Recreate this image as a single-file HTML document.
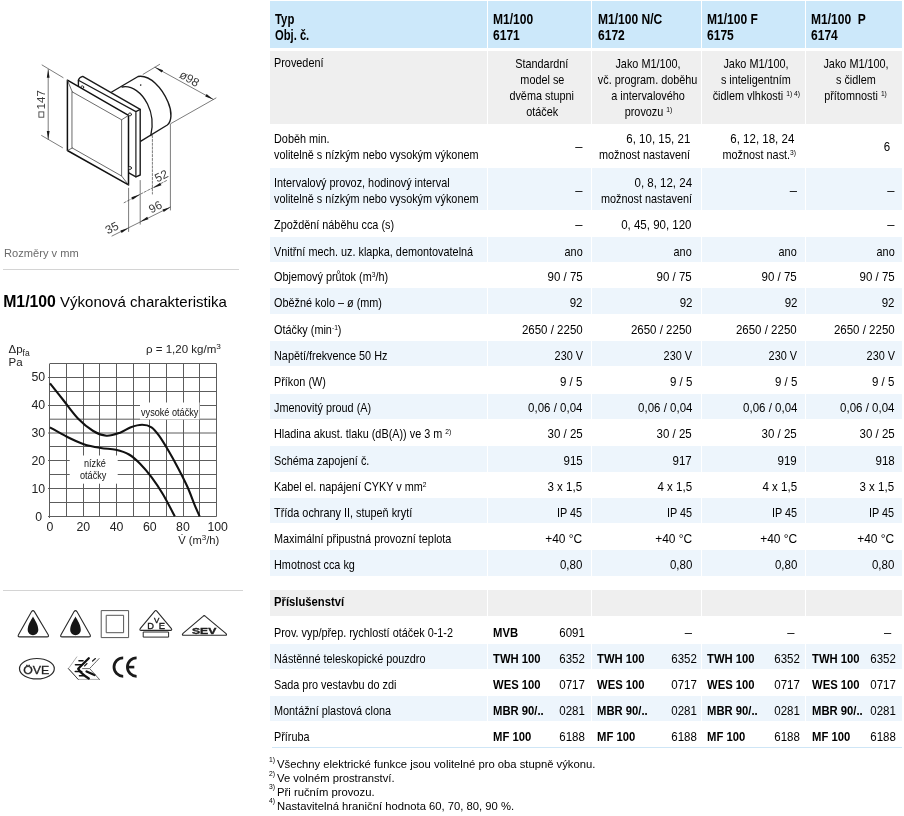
<!DOCTYPE html>
<html><head><meta charset="utf-8"><style>
html,body{margin:0;padding:0;background:#fff;}
body{width:904px;height:816px;position:relative;overflow:hidden;font-family:"Liberation Sans", sans-serif;}
.b{position:absolute;}
.t{position:absolute;white-space:nowrap;}
#w{position:absolute;left:0;top:0;width:904px;height:816px;will-change:transform;}
svg{position:absolute;left:0;top:0;}
</style></head><body><div id="w">
<svg width="904" height="816" viewBox="0 0 904 816" style="position:absolute;left:0;top:0">
<g fill="none" stroke-linejoin="round" stroke-linecap="round">
<!-- cylinder -->
<path d="M111.7,92 L138.1,76.5 C150,74.5 162,88 168,102 C172.5,112 171.5,122 167.3,125 L140.5,141.4" fill="#fff" stroke="#1a1a1a" stroke-width="1.4"/>
<path d="M122.1,87 C132,85 142,93 147.5,104 C152,113 153.5,124 150.8,135.5" stroke="#1a1a1a" stroke-width="1.3"/>
<circle cx="140.7" cy="85.1" r="0.8" fill="#222" stroke="none"/>
<!-- back plate -->
<path d="M78.4,86.5 L78.4,80.2 Q79,77.5 82.7,76.4 L140.2,109.4 L140.2,175 L135.9,176.8 L128.5,172.5 L128.5,115.4 Z" fill="#fff" stroke="none"/>
<path d="M78.4,86.5 L78.4,80.2 Q79,77.5 82.7,76.4 L140.2,109.4 L140.2,175 L135.9,176.8 L128.8,172.8" stroke="#1a1a1a" stroke-width="1.4"/>
<path d="M78.4,80.2 L135.9,111.6 L140.2,109.4 M135.9,111.6 L135.9,176.8" stroke="#1a1a1a" stroke-width="1.2"/>
<circle cx="82.3" cy="87.2" r="1.4" fill="#fff" stroke="#222" stroke-width="0.9"/>
<!-- front plate -->
<path d="M67.4,80.2 L128.5,115.4 L128.5,184.9 L67.4,150.5 Z" fill="#fff" stroke="#111" stroke-width="1.5"/>
<path d="M72.3,91.9 L121.6,119.8 L121.6,176 L72.3,148 Z" stroke="#444" stroke-width="0.8"/>
<path d="M67.4,80.2 L72.3,91.9 M128.5,115.4 L121.6,119.8 M128.5,184.9 L121.6,176 M67.4,150.5 L72.3,148" stroke="#444" stroke-width="0.8"/>
<circle cx="130" cy="114.4" r="1.5" fill="#fff" stroke="#222" stroke-width="0.9"/>
<circle cx="130" cy="168" r="1.5" fill="#fff" stroke="#222" stroke-width="0.9"/>
<!-- dimension lines -->
<g stroke="#444" stroke-width="0.7">
<line x1="42.1" y1="65" x2="63.1" y2="77.6"/>
<line x1="41.6" y1="135.5" x2="62.5" y2="147.7"/>
<line x1="48.2" y1="69.4" x2="48.2" y2="139.4"/>
<line x1="143.1" y1="74.3" x2="159.6" y2="64.4"/>
<line x1="155" y1="67.3" x2="213.3" y2="99.4"/>
<line x1="171.2" y1="123.4" x2="216" y2="98"/>
<line x1="170.4" y1="124" x2="170.4" y2="210"/>
<line x1="128.6" y1="188.2" x2="128.6" y2="231.5"/>
<line x1="140.2" y1="180.5" x2="140.2" y2="224.2"/>
<line x1="112" y1="236" x2="170.4" y2="207"/>
<line x1="152.4" y1="135.5" x2="152.4" y2="194" stroke-dasharray="2.2,1.6"/>
<line x1="124.1" y1="202.7" x2="167.6" y2="180" stroke-dasharray="2.2,1.6"/>
</g>
<g fill="#1a1a1a" stroke="none">
<path d="M48.20,69.40 L49.60,77.80 L46.80,77.80 Z"/>
<path d="M48.20,139.40 L46.80,131.00 L49.60,131.00 Z"/>
<path d="M155.00,67.30 L163.08,70.18 L161.72,72.62 Z"/>
<path d="M213.30,99.40 L205.22,96.52 L206.58,94.08 Z"/>
<path d="M128.60,228.00 L121.61,232.96 L120.39,230.44 Z"/>
<path d="M140.20,221.80 L147.19,216.84 L148.41,219.36 Z"/>
<path d="M170.40,207.20 L163.71,211.96 L162.49,209.44 Z"/>
<path d="M140.30,194.30 L132.63,199.75 L131.37,197.25 Z"/>
<path d="M152.50,188.30 L160.17,182.85 L161.43,185.35 Z"/>
</g>
</g>
<rect x="38.9" y="111.9" width="4.9" height="5.3" fill="none" stroke="#444" stroke-width="0.9"/>
<g font-family="Liberation Sans, sans-serif" fill="#3a3a3a">
<text transform="translate(45.1,109.4) rotate(-90)" font-size="11.6">147</text>
<text transform="translate(178.4,76.9) rotate(30)" font-size="12">ø98</text>
<text transform="translate(157.3,182.4) rotate(-27)" font-size="11.8">52</text>
<text transform="translate(151.3,213.6) rotate(-27)" font-size="11.8">96</text>
<text transform="translate(107.8,234.5) rotate(-27)" font-size="11.8">35</text>
</g>
</svg>

<svg width="904" height="816" viewBox="0 0 904 816" style="position:absolute;left:0;top:0">
<g stroke="#5c5c5c" stroke-width="1"><line x1="49.50" y1="363.5" x2="49.50" y2="518.00"/><line x1="66.50" y1="363.5" x2="66.50" y2="516.50"/><line x1="83.50" y1="363.5" x2="83.50" y2="516.50"/><line x1="99.50" y1="363.5" x2="99.50" y2="516.50"/><line x1="116.50" y1="363.5" x2="116.50" y2="516.50"/><line x1="133.50" y1="363.5" x2="133.50" y2="516.50"/><line x1="149.50" y1="363.5" x2="149.50" y2="516.50"/><line x1="166.50" y1="363.5" x2="166.50" y2="516.50"/><line x1="183.50" y1="363.5" x2="183.50" y2="516.50"/><line x1="199.50" y1="363.5" x2="199.50" y2="516.50"/><line x1="216.50" y1="363.5" x2="216.50" y2="516.50"/><line x1="48.00" y1="516.50" x2="216.5" y2="516.50"/><line x1="50.00" y1="502.50" x2="216.5" y2="502.50"/><line x1="48.00" y1="488.50" x2="216.5" y2="488.50"/><line x1="50.00" y1="474.50" x2="216.5" y2="474.50"/><line x1="48.00" y1="460.50" x2="216.5" y2="460.50"/><line x1="50.00" y1="446.50" x2="216.5" y2="446.50"/><line x1="48.00" y1="433.00" x2="216.5" y2="433.00"/><line x1="50.00" y1="419.20" x2="216.5" y2="419.20"/><line x1="48.00" y1="405.50" x2="216.5" y2="405.50"/><line x1="50.00" y1="391.50" x2="216.5" y2="391.50"/><line x1="48.00" y1="377.50" x2="216.5" y2="377.50"/><line x1="50.00" y1="363.50" x2="216.5" y2="363.50"/></g>
<rect x="140" y="402.5" width="59.5" height="17" fill="#fff"/>
<rect x="69.7" y="455.5" width="48" height="28.2" fill="#fff"/>
<path d="M50.00,383.40 C52.20,386.17 58.50,394.10 63.20,400.00 C67.90,405.90 73.20,413.63 78.20,418.80 C83.20,423.97 88.50,428.18 93.20,431.00 C97.90,433.82 102.00,435.38 106.40,435.70 C110.80,436.02 115.52,434.30 119.60,432.90 C123.68,431.50 127.15,428.65 130.90,427.30 C134.65,425.95 138.67,424.80 142.10,424.80 C145.53,424.80 148.68,425.48 151.50,427.30 C154.32,429.12 156.17,431.78 159.00,435.70 C161.83,439.62 165.35,445.47 168.50,450.80 C171.65,456.13 174.77,461.75 177.90,467.70 C181.03,473.65 184.48,480.23 187.30,486.50 C190.12,492.77 192.75,500.33 194.80,505.30 C196.85,510.27 198.80,514.47 199.60,516.30" fill="none" stroke="#111" stroke-width="2.1"/>
<path d="M50.00,427.30 C52.82,428.87 61.27,433.88 66.90,436.70 C72.53,439.52 78.15,442.32 83.80,444.20 C89.45,446.08 95.47,447.07 100.80,448.00 C106.13,448.93 111.10,448.72 115.80,449.80 C120.50,450.88 124.92,452.15 129.00,454.50 C133.08,456.85 136.55,460.13 140.30,463.90 C144.05,467.67 147.75,472.08 151.50,477.10 C155.25,482.12 158.92,487.47 162.80,494.00 C166.68,500.53 172.80,512.58 174.80,516.30" fill="none" stroke="#111" stroke-width="2.1"/>
<text x="42" y="520.70" font-size="12.3" text-anchor="end" fill="#222" font-family="Liberation Sans, sans-serif">0</text>
<text x="45.2" y="492.80" font-size="12.3" text-anchor="end" fill="#222" font-family="Liberation Sans, sans-serif">10</text>
<text x="45.2" y="464.90" font-size="12.3" text-anchor="end" fill="#222" font-family="Liberation Sans, sans-serif">20</text>
<text x="45.2" y="437.00" font-size="12.3" text-anchor="end" fill="#222" font-family="Liberation Sans, sans-serif">30</text>
<text x="45.2" y="409.10" font-size="12.3" text-anchor="end" fill="#222" font-family="Liberation Sans, sans-serif">40</text>
<text x="45.2" y="381.20" font-size="12.3" text-anchor="end" fill="#222" font-family="Liberation Sans, sans-serif">50</text>
<text x="50.00" y="530.5" font-size="12.3" text-anchor="middle" fill="#222" font-family="Liberation Sans, sans-serif">0</text>
<text x="83.24" y="530.5" font-size="12.3" text-anchor="middle" fill="#222" font-family="Liberation Sans, sans-serif">20</text>
<text x="116.48" y="530.5" font-size="12.3" text-anchor="middle" fill="#222" font-family="Liberation Sans, sans-serif">40</text>
<text x="149.72" y="530.5" font-size="12.3" text-anchor="middle" fill="#222" font-family="Liberation Sans, sans-serif">60</text>
<text x="182.96" y="530.5" font-size="12.3" text-anchor="middle" fill="#222" font-family="Liberation Sans, sans-serif">80</text>
<text x="217.70" y="530.5" font-size="12.3" text-anchor="middle" fill="#222" font-family="Liberation Sans, sans-serif">100</text>
</svg>
<svg width="904" height="816" viewBox="0 0 904 816" style="position:absolute;left:0;top:0">
<g fill="none" stroke="#2a2a2a" stroke-linejoin="round" stroke-linecap="round">
<!-- drop triangles -->
<path d="M31.6,611.6 Q33,609.6 34.4,611.6 L48.2,634.8 Q49.2,636.9 47,636.9 L19.7,636.9 Q17.4,636.9 18.5,634.8 Z" stroke-width="1.1"/>
<path d="M74.1,611.6 Q75.5,609.6 76.9,611.6 L90.1,634.8 Q91.1,636.9 88.9,636.9 L62.1,636.9 Q59.9,636.9 61,634.8 Z" stroke-width="1.1"/>
<!-- double square -->
<rect x="101.6" y="610.6" width="27" height="27" stroke="#555" stroke-width="1"/>
<rect x="106.6" y="615.3" width="17" height="17.4" stroke="#555" stroke-width="1"/>
<!-- DVE -->
<path d="M154.6,611.3 Q155.8,609.8 157,611.3 L171.2,628.4 Q172.6,630.4 170.4,630.4 L141.3,630.4 Q139,630.4 140.4,628.4 Z" stroke-width="1.1"/>
<rect x="143.6" y="632" width="25" height="5.1" stroke-width="1"/>
<!-- SEV -->
<path d="M203,616.3 Q204.2,615 205.4,616.3 L225.8,633.3 Q227.5,635.3 225.3,635.3 L183.7,635.3 Q181.4,635.3 183,633.3 Z" stroke-width="1.1"/>
<!-- OVE -->
<ellipse cx="36.9" cy="668.7" rx="17.4" ry="10.2" stroke-width="1.2"/>
<!-- CE -->
<path d="M123.2,657.9 A9.2,9.2 0 0 0 123.2,676.3" stroke="#1a1a1a" stroke-width="2.8" stroke-linecap="butt"/>
<path d="M136.6,657.9 A9.2,9.2 0 0 0 136.6,676.3" stroke="#1a1a1a" stroke-width="2.8" stroke-linecap="butt"/>
<line x1="127" y1="667.1" x2="134.3" y2="667.1" stroke="#1a1a1a" stroke-width="2.6" stroke-linecap="butt"/>
<!-- swirl mark -->
<path d="M76.8,656.9 L68.4,668.6 L78.2,679.4 L99.4,679.4" stroke="#999" stroke-width="0.8"/>
<path d="M68.4,668.6 L78.2,679.4" stroke="#333" stroke-width="0.9"/>
<path d="M88.8,658.2 L78.2,668.8 Q81,673.5 88.8,678.5" stroke="#111" stroke-width="2.3"/>
<path d="M79,660.8 L83,660.8 M75.5,664.8 L81.7,664.8 M75.3,671.5 L81.7,671.5 M79.5,675.7 L83.5,675.7" stroke="#111" stroke-width="1.6"/>
<path d="M90.1,668 L99.4,658.2" stroke="#333" stroke-width="0.8" stroke-dasharray="1.5,0.8"/>
<path d="M92.6,661 L95.4,658.6" stroke="#222" stroke-width="1.3"/>
<path d="M86.6,671.5 L94.5,675" stroke="#111" stroke-width="2.4"/>
<path d="M82.6,668.6 L89.7,668.6 L99.4,679.4" stroke="#444" stroke-width="0.8"/>
<path d="M84.5,666 L87,663.5" stroke="#222" stroke-width="1.1"/>
</g>
<g fill="#161616" stroke="none">
<path d="M33,616.4 C31.2,620 27.7,624.5 27.7,629.8 C27.7,633 30.2,635.2 33,635.2 C35.8,635.2 38.3,633 38.3,629.8 C38.3,624.5 34.8,620 33,616.4 Z"/>
<path d="M75.5,616.4 C73.7,620 70.2,624.5 70.2,629.8 C70.2,633 72.7,635.2 75.5,635.2 C78.3,635.2 80.8,633 80.8,629.8 C80.8,624.5 77.3,620 75.5,616.4 Z"/>
</g>
<g font-family="Liberation Sans, sans-serif" fill="#222">
<text x="147.2" y="629.3" font-size="9.3" stroke="#111" stroke-width="0.35">D</text>
<text x="154" y="622.8" font-size="8" stroke="#111" stroke-width="0.35">V</text>
<text x="158.8" y="629.3" font-size="9.3" stroke="#111" stroke-width="0.35">E</text>
<text x="0" y="0" font-size="8.4" font-weight="bold" stroke="#1a1a1a" stroke-width="0.35" transform="translate(191.9,633.6) scale(1.45,1)">SEV</text>
<text x="0" y="0" font-size="11" stroke="#222" stroke-width="0.3" transform="translate(23.2,673.8) scale(1.12,1)">ÖVE</text>
</g>
</svg>

<div class="b" style="left:270px;top:1px;width:217px;height:47px;background:#cce8fa"></div><div class="b" style="left:488px;top:1px;width:103px;height:47px;background:#cce8fa"></div><div class="b" style="left:592px;top:1px;width:109px;height:47px;background:#cce8fa"></div><div class="b" style="left:702px;top:1px;width:103px;height:47px;background:#cce8fa"></div><div class="b" style="left:806px;top:1px;width:96px;height:47px;background:#cce8fa"></div><div class="b" style="left:270px;top:51px;width:217px;height:73px;background:#efefef"></div><div class="b" style="left:488px;top:51px;width:103px;height:73px;background:#efefef"></div><div class="b" style="left:592px;top:51px;width:109px;height:73px;background:#efefef"></div><div class="b" style="left:702px;top:51px;width:103px;height:73px;background:#efefef"></div><div class="b" style="left:806px;top:51px;width:96px;height:73px;background:#efefef"></div><div class="b" style="left:270px;top:168px;width:217px;height:42px;background:#edf5fc"></div><div class="b" style="left:488px;top:168px;width:103px;height:42px;background:#edf5fc"></div><div class="b" style="left:592px;top:168px;width:109px;height:42px;background:#edf5fc"></div><div class="b" style="left:702px;top:168px;width:103px;height:42px;background:#edf5fc"></div><div class="b" style="left:806px;top:168px;width:96px;height:42px;background:#edf5fc"></div><div class="b" style="left:270px;top:237px;width:217px;height:25px;background:#edf5fc"></div><div class="b" style="left:488px;top:237px;width:103px;height:25px;background:#edf5fc"></div><div class="b" style="left:592px;top:237px;width:109px;height:25px;background:#edf5fc"></div><div class="b" style="left:702px;top:237px;width:103px;height:25px;background:#edf5fc"></div><div class="b" style="left:806px;top:237px;width:96px;height:25px;background:#edf5fc"></div><div class="b" style="left:270px;top:288px;width:217px;height:26px;background:#edf5fc"></div><div class="b" style="left:488px;top:288px;width:103px;height:26px;background:#edf5fc"></div><div class="b" style="left:592px;top:288px;width:109px;height:26px;background:#edf5fc"></div><div class="b" style="left:702px;top:288px;width:103px;height:26px;background:#edf5fc"></div><div class="b" style="left:806px;top:288px;width:96px;height:26px;background:#edf5fc"></div><div class="b" style="left:270px;top:341px;width:217px;height:25px;background:#edf5fc"></div><div class="b" style="left:488px;top:341px;width:103px;height:25px;background:#edf5fc"></div><div class="b" style="left:592px;top:341px;width:109px;height:25px;background:#edf5fc"></div><div class="b" style="left:702px;top:341px;width:103px;height:25px;background:#edf5fc"></div><div class="b" style="left:806px;top:341px;width:96px;height:25px;background:#edf5fc"></div><div class="b" style="left:270px;top:394px;width:217px;height:25px;background:#edf5fc"></div><div class="b" style="left:488px;top:394px;width:103px;height:25px;background:#edf5fc"></div><div class="b" style="left:592px;top:394px;width:109px;height:25px;background:#edf5fc"></div><div class="b" style="left:702px;top:394px;width:103px;height:25px;background:#edf5fc"></div><div class="b" style="left:806px;top:394px;width:96px;height:25px;background:#edf5fc"></div><div class="b" style="left:270px;top:446px;width:217px;height:26px;background:#edf5fc"></div><div class="b" style="left:488px;top:446px;width:103px;height:26px;background:#edf5fc"></div><div class="b" style="left:592px;top:446px;width:109px;height:26px;background:#edf5fc"></div><div class="b" style="left:702px;top:446px;width:103px;height:26px;background:#edf5fc"></div><div class="b" style="left:806px;top:446px;width:96px;height:26px;background:#edf5fc"></div><div class="b" style="left:270px;top:498px;width:217px;height:25px;background:#edf5fc"></div><div class="b" style="left:488px;top:498px;width:103px;height:25px;background:#edf5fc"></div><div class="b" style="left:592px;top:498px;width:109px;height:25px;background:#edf5fc"></div><div class="b" style="left:702px;top:498px;width:103px;height:25px;background:#edf5fc"></div><div class="b" style="left:806px;top:498px;width:96px;height:25px;background:#edf5fc"></div><div class="b" style="left:270px;top:550px;width:217px;height:26px;background:#edf5fc"></div><div class="b" style="left:488px;top:550px;width:103px;height:26px;background:#edf5fc"></div><div class="b" style="left:592px;top:550px;width:109px;height:26px;background:#edf5fc"></div><div class="b" style="left:702px;top:550px;width:103px;height:26px;background:#edf5fc"></div><div class="b" style="left:806px;top:550px;width:96px;height:26px;background:#edf5fc"></div><div class="b" style="left:270px;top:590px;width:217px;height:26px;background:#efefef"></div><div class="b" style="left:488px;top:590px;width:103px;height:26px;background:#efefef"></div><div class="b" style="left:592px;top:590px;width:109px;height:26px;background:#efefef"></div><div class="b" style="left:702px;top:590px;width:103px;height:26px;background:#efefef"></div><div class="b" style="left:806px;top:590px;width:96px;height:26px;background:#efefef"></div><div class="b" style="left:270px;top:644px;width:217px;height:25px;background:#edf5fc"></div><div class="b" style="left:488px;top:644px;width:103px;height:25px;background:#edf5fc"></div><div class="b" style="left:592px;top:644px;width:109px;height:25px;background:#edf5fc"></div><div class="b" style="left:702px;top:644px;width:103px;height:25px;background:#edf5fc"></div><div class="b" style="left:806px;top:644px;width:96px;height:25px;background:#edf5fc"></div><div class="b" style="left:270px;top:696px;width:217px;height:25px;background:#edf5fc"></div><div class="b" style="left:488px;top:696px;width:103px;height:25px;background:#edf5fc"></div><div class="b" style="left:592px;top:696px;width:109px;height:25px;background:#edf5fc"></div><div class="b" style="left:702px;top:696px;width:103px;height:25px;background:#edf5fc"></div><div class="b" style="left:806px;top:696px;width:96px;height:25px;background:#edf5fc"></div><div class="b" style="left:272px;top:747px;width:630px;height:1px;background:#cfe6f6"></div><div class="t" style="left:275.00px;top:11.95px;font-size:14px;line-height:14px;font-weight:bold;color:#000;"><span style="display:inline-block;transform:scaleX(0.81);transform-origin:left;">Typ</span></div><div class="t" style="left:275.00px;top:27.95px;font-size:14px;line-height:14px;font-weight:bold;color:#000;"><span style="display:inline-block;transform:scaleX(0.8);transform-origin:left;">Obj. č.</span></div><div class="t" style="left:492.80px;top:11.95px;font-size:14px;line-height:14px;font-weight:bold;color:#000;"><span style="display:inline-block;transform:scaleX(0.86);transform-origin:left;">M1/100</span></div><div class="t" style="left:492.80px;top:27.95px;font-size:14px;line-height:14px;font-weight:bold;color:#000;"><span style="display:inline-block;transform:scaleX(0.86);transform-origin:left;">6171</span></div><div class="t" style="left:597.80px;top:11.95px;font-size:14px;line-height:14px;font-weight:bold;color:#000;"><span style="display:inline-block;transform:scaleX(0.86);transform-origin:left;">M1/100 N/C</span></div><div class="t" style="left:597.80px;top:27.95px;font-size:14px;line-height:14px;font-weight:bold;color:#000;"><span style="display:inline-block;transform:scaleX(0.86);transform-origin:left;">6172</span></div><div class="t" style="left:707.20px;top:11.95px;font-size:14px;line-height:14px;font-weight:bold;color:#000;"><span style="display:inline-block;transform:scaleX(0.86);transform-origin:left;">M1/100 F</span></div><div class="t" style="left:707.20px;top:27.95px;font-size:14px;line-height:14px;font-weight:bold;color:#000;"><span style="display:inline-block;transform:scaleX(0.86);transform-origin:left;">6175</span></div><div class="t" style="left:811.00px;top:11.95px;font-size:14px;line-height:14px;font-weight:bold;color:#000;"><span style="display:inline-block;transform:scaleX(0.86);transform-origin:left;">M1/100&nbsp; P</span></div><div class="t" style="left:811.00px;top:27.95px;font-size:14px;line-height:14px;font-weight:bold;color:#000;"><span style="display:inline-block;transform:scaleX(0.86);transform-origin:left;">6174</span></div><div class="t" style="left:274.40px;top:56.00px;font-size:13px;line-height:13px;color:#000;"><span style="display:inline-block;transform:scaleX(0.835);transform-origin:left;">Provedení</span></div><div class="t" style="left:-458.00px;width:2000px;text-align:center;top:57.00px;font-size:13px;line-height:13px;color:#000;"><span style="display:inline-block;transform:scaleX(0.835);transform-origin:center;">Standardní</span></div><div class="t" style="left:-458.00px;width:2000px;text-align:center;top:73.00px;font-size:13px;line-height:13px;color:#000;"><span style="display:inline-block;transform:scaleX(0.835);transform-origin:center;">model se</span></div><div class="t" style="left:-458.00px;width:2000px;text-align:center;top:89.00px;font-size:13px;line-height:13px;color:#000;"><span style="display:inline-block;transform:scaleX(0.835);transform-origin:center;">dvěma stupni</span></div><div class="t" style="left:-458.00px;width:2000px;text-align:center;top:105.00px;font-size:13px;line-height:13px;color:#000;"><span style="display:inline-block;transform:scaleX(0.835);transform-origin:center;">otáček</span></div><div class="t" style="left:-352.00px;width:2000px;text-align:center;top:57.00px;font-size:13px;line-height:13px;color:#000;"><span style="display:inline-block;transform:scaleX(0.835);transform-origin:center;">Jako M1/100,</span></div><div class="t" style="left:-352.00px;width:2000px;text-align:center;top:73.00px;font-size:13px;line-height:13px;color:#000;"><span style="display:inline-block;transform:scaleX(0.835);transform-origin:center;">vč. program. doběhu</span></div><div class="t" style="left:-352.00px;width:2000px;text-align:center;top:89.00px;font-size:13px;line-height:13px;color:#000;"><span style="display:inline-block;transform:scaleX(0.835);transform-origin:center;">a intervalového</span></div><div class="t" style="left:-352.00px;width:2000px;text-align:center;top:105.00px;font-size:13px;line-height:13px;color:#000;"><span style="display:inline-block;transform:scaleX(0.835);transform-origin:center;">provozu <span style="font-size:8px;position:relative;top:-4px">1)</span></span></div><div class="t" style="left:-244.20px;width:2000px;text-align:center;top:57.00px;font-size:13px;line-height:13px;color:#000;"><span style="display:inline-block;transform:scaleX(0.835);transform-origin:center;">Jako M1/100,</span></div><div class="t" style="left:-244.20px;width:2000px;text-align:center;top:73.00px;font-size:13px;line-height:13px;color:#000;"><span style="display:inline-block;transform:scaleX(0.835);transform-origin:center;">s inteligentním</span></div><div class="t" style="left:-244.20px;width:2000px;text-align:center;top:89.00px;font-size:13px;line-height:13px;color:#000;"><span style="display:inline-block;transform:scaleX(0.835);transform-origin:center;">čidlem vlhkosti <span style="font-size:8px;position:relative;top:-4px">1) 4)</span></span></div><div class="t" style="left:-144.30px;width:2000px;text-align:center;top:57.00px;font-size:13px;line-height:13px;color:#000;"><span style="display:inline-block;transform:scaleX(0.835);transform-origin:center;">Jako M1/100,</span></div><div class="t" style="left:-144.30px;width:2000px;text-align:center;top:73.00px;font-size:13px;line-height:13px;color:#000;"><span style="display:inline-block;transform:scaleX(0.835);transform-origin:center;">s čidlem</span></div><div class="t" style="left:-144.30px;width:2000px;text-align:center;top:89.00px;font-size:13px;line-height:13px;color:#000;"><span style="display:inline-block;transform:scaleX(0.835);transform-origin:center;">přítomnosti <span style="font-size:8px;position:relative;top:-4px">1)</span></span></div><div class="t" style="left:274.40px;top:131.80px;font-size:13px;line-height:13px;color:#000;"><span style="display:inline-block;transform:scaleX(0.835);transform-origin:left;">Doběh min.</span></div><div class="t" style="left:274.40px;top:147.50px;font-size:13px;line-height:13px;color:#000;"><span style="display:inline-block;transform:scaleX(0.835);transform-origin:left;">volitelně s nízkým nebo vysokým výkonem</span></div><div class="t" style="left:-1417.50px;width:2000px;text-align:right;top:139.50px;font-size:13px;line-height:13px;color:#000;"><span style="display:inline-block;">–</span></div><div class="t" style="left:-1310.00px;width:2000px;text-align:right;top:131.80px;font-size:13px;line-height:13px;color:#000;"><span style="display:inline-block;transform:scaleX(0.885);transform-origin:right;">6, 10, 15, 21</span></div><div class="t" style="left:-1310.00px;width:2000px;text-align:right;top:147.50px;font-size:13px;line-height:13px;color:#000;"><span style="display:inline-block;transform:scaleX(0.835);transform-origin:right;">možnost nastavení</span></div><div class="t" style="left:-1205.50px;width:2000px;text-align:right;top:131.80px;font-size:13px;line-height:13px;color:#000;"><span style="display:inline-block;transform:scaleX(0.885);transform-origin:right;">6, 12, 18, 24</span></div><div class="t" style="left:-1204.00px;width:2000px;text-align:right;top:147.50px;font-size:13px;line-height:13px;color:#000;"><span style="display:inline-block;transform:scaleX(0.835);transform-origin:right;">možnost nast.<span style="font-size:8px;position:relative;top:-4px">3)</span></span></div><div class="t" style="left:-1109.50px;width:2000px;text-align:right;top:139.50px;font-size:13px;line-height:13px;color:#000;"><span style="display:inline-block;transform:scaleX(0.885);transform-origin:right;">6</span></div><div class="t" style="left:274.40px;top:175.70px;font-size:13px;line-height:13px;color:#000;"><span style="display:inline-block;transform:scaleX(0.835);transform-origin:left;">Intervalový provoz, hodinový interval</span></div><div class="t" style="left:274.40px;top:191.50px;font-size:13px;line-height:13px;color:#000;"><span style="display:inline-block;transform:scaleX(0.835);transform-origin:left;">volitelně s nízkým nebo vysokým výkonem</span></div><div class="t" style="left:-1417.50px;width:2000px;text-align:right;top:183.50px;font-size:13px;line-height:13px;color:#000;"><span style="display:inline-block;">–</span></div><div class="t" style="left:-1308.00px;width:2000px;text-align:right;top:175.70px;font-size:13px;line-height:13px;color:#000;"><span style="display:inline-block;transform:scaleX(0.885);transform-origin:right;">0, 8, 12, 24</span></div><div class="t" style="left:-1308.00px;width:2000px;text-align:right;top:191.50px;font-size:13px;line-height:13px;color:#000;"><span style="display:inline-block;transform:scaleX(0.835);transform-origin:right;">možnost nastavení</span></div><div class="t" style="left:-1203.00px;width:2000px;text-align:right;top:183.50px;font-size:13px;line-height:13px;color:#000;"><span style="display:inline-block;">–</span></div><div class="t" style="left:-1105.50px;width:2000px;text-align:right;top:183.50px;font-size:13px;line-height:13px;color:#000;"><span style="display:inline-block;">–</span></div><div class="t" style="left:274.40px;top:218.35px;font-size:13px;line-height:13px;color:#000;"><span style="display:inline-block;transform:scaleX(0.835);transform-origin:left;">Zpoždění náběhu cca (s)</span></div><div class="t" style="left:-1417.50px;width:2000px;text-align:right;top:218.35px;font-size:13px;line-height:13px;color:#000;"><span style="display:inline-block;">–</span></div><div class="t" style="left:-1308.00px;width:2000px;text-align:right;top:218.35px;font-size:13px;line-height:13px;color:#000;"><span style="display:inline-block;transform:scaleX(0.885);transform-origin:right;">0, 45, 90, 120</span></div><div class="t" style="left:-1105.50px;width:2000px;text-align:right;top:218.35px;font-size:13px;line-height:13px;color:#000;"><span style="display:inline-block;">–</span></div><div class="t" style="left:274.40px;top:244.60px;font-size:13px;line-height:13px;color:#000;"><span style="display:inline-block;transform:scaleX(0.835);transform-origin:left;">Vnitřní mech. uz. klapka, demontovatelná</span></div><div class="t" style="left:-1417.50px;width:2000px;text-align:right;top:244.60px;font-size:13px;line-height:13px;color:#000;"><span style="display:inline-block;transform:scaleX(0.835);transform-origin:right;">ano</span></div><div class="t" style="left:-1308.00px;width:2000px;text-align:right;top:244.60px;font-size:13px;line-height:13px;color:#000;"><span style="display:inline-block;transform:scaleX(0.835);transform-origin:right;">ano</span></div><div class="t" style="left:-1203.00px;width:2000px;text-align:right;top:244.60px;font-size:13px;line-height:13px;color:#000;"><span style="display:inline-block;transform:scaleX(0.835);transform-origin:right;">ano</span></div><div class="t" style="left:-1105.50px;width:2000px;text-align:right;top:244.60px;font-size:13px;line-height:13px;color:#000;"><span style="display:inline-block;transform:scaleX(0.835);transform-origin:right;">ano</span></div><div class="t" style="left:274.40px;top:270.35px;font-size:13px;line-height:13px;color:#000;"><span style="display:inline-block;transform:scaleX(0.835);transform-origin:left;">Objemový průtok (m<span style="font-size:8px;position:relative;top:-4px">3</span>/h)</span></div><div class="t" style="left:-1417.50px;width:2000px;text-align:right;top:270.35px;font-size:13px;line-height:13px;color:#000;"><span style="display:inline-block;transform:scaleX(0.885);transform-origin:right;">90 / 75</span></div><div class="t" style="left:-1308.00px;width:2000px;text-align:right;top:270.35px;font-size:13px;line-height:13px;color:#000;"><span style="display:inline-block;transform:scaleX(0.885);transform-origin:right;">90 / 75</span></div><div class="t" style="left:-1203.00px;width:2000px;text-align:right;top:270.35px;font-size:13px;line-height:13px;color:#000;"><span style="display:inline-block;transform:scaleX(0.885);transform-origin:right;">90 / 75</span></div><div class="t" style="left:-1105.50px;width:2000px;text-align:right;top:270.35px;font-size:13px;line-height:13px;color:#000;"><span style="display:inline-block;transform:scaleX(0.885);transform-origin:right;">90 / 75</span></div><div class="t" style="left:274.40px;top:296.35px;font-size:13px;line-height:13px;color:#000;"><span style="display:inline-block;transform:scaleX(0.835);transform-origin:left;">Oběžné kolo – ø (mm)</span></div><div class="t" style="left:-1417.50px;width:2000px;text-align:right;top:296.35px;font-size:13px;line-height:13px;color:#000;"><span style="display:inline-block;transform:scaleX(0.885);transform-origin:right;">92</span></div><div class="t" style="left:-1308.00px;width:2000px;text-align:right;top:296.35px;font-size:13px;line-height:13px;color:#000;"><span style="display:inline-block;transform:scaleX(0.885);transform-origin:right;">92</span></div><div class="t" style="left:-1203.00px;width:2000px;text-align:right;top:296.35px;font-size:13px;line-height:13px;color:#000;"><span style="display:inline-block;transform:scaleX(0.885);transform-origin:right;">92</span></div><div class="t" style="left:-1105.50px;width:2000px;text-align:right;top:296.35px;font-size:13px;line-height:13px;color:#000;"><span style="display:inline-block;transform:scaleX(0.885);transform-origin:right;">92</span></div><div class="t" style="left:274.40px;top:322.60px;font-size:13px;line-height:13px;color:#000;"><span style="display:inline-block;transform:scaleX(0.835);transform-origin:left;">Otáčky (min<span style="font-size:8px;position:relative;top:-4px">-1</span>)</span></div><div class="t" style="left:-1417.50px;width:2000px;text-align:right;top:322.60px;font-size:13px;line-height:13px;color:#000;"><span style="display:inline-block;transform:scaleX(0.885);transform-origin:right;">2650 / 2250</span></div><div class="t" style="left:-1308.00px;width:2000px;text-align:right;top:322.60px;font-size:13px;line-height:13px;color:#000;"><span style="display:inline-block;transform:scaleX(0.885);transform-origin:right;">2650 / 2250</span></div><div class="t" style="left:-1203.00px;width:2000px;text-align:right;top:322.60px;font-size:13px;line-height:13px;color:#000;"><span style="display:inline-block;transform:scaleX(0.885);transform-origin:right;">2650 / 2250</span></div><div class="t" style="left:-1105.50px;width:2000px;text-align:right;top:322.60px;font-size:13px;line-height:13px;color:#000;"><span style="display:inline-block;transform:scaleX(0.885);transform-origin:right;">2650 / 2250</span></div><div class="t" style="left:274.40px;top:348.60px;font-size:13px;line-height:13px;color:#000;"><span style="display:inline-block;transform:scaleX(0.835);transform-origin:left;">Napětí/frekvence 50 Hz</span></div><div class="t" style="left:-1417.50px;width:2000px;text-align:right;top:348.60px;font-size:13px;line-height:13px;color:#000;"><span style="display:inline-block;transform:scaleX(0.835);transform-origin:right;">230 V</span></div><div class="t" style="left:-1308.00px;width:2000px;text-align:right;top:348.60px;font-size:13px;line-height:13px;color:#000;"><span style="display:inline-block;transform:scaleX(0.835);transform-origin:right;">230 V</span></div><div class="t" style="left:-1203.00px;width:2000px;text-align:right;top:348.60px;font-size:13px;line-height:13px;color:#000;"><span style="display:inline-block;transform:scaleX(0.835);transform-origin:right;">230 V</span></div><div class="t" style="left:-1105.50px;width:2000px;text-align:right;top:348.60px;font-size:13px;line-height:13px;color:#000;"><span style="display:inline-block;transform:scaleX(0.835);transform-origin:right;">230 V</span></div><div class="t" style="left:274.40px;top:374.85px;font-size:13px;line-height:13px;color:#000;"><span style="display:inline-block;transform:scaleX(0.835);transform-origin:left;">Příkon (W)</span></div><div class="t" style="left:-1417.50px;width:2000px;text-align:right;top:374.85px;font-size:13px;line-height:13px;color:#000;"><span style="display:inline-block;transform:scaleX(0.885);transform-origin:right;">9 / 5</span></div><div class="t" style="left:-1308.00px;width:2000px;text-align:right;top:374.85px;font-size:13px;line-height:13px;color:#000;"><span style="display:inline-block;transform:scaleX(0.885);transform-origin:right;">9 / 5</span></div><div class="t" style="left:-1203.00px;width:2000px;text-align:right;top:374.85px;font-size:13px;line-height:13px;color:#000;"><span style="display:inline-block;transform:scaleX(0.885);transform-origin:right;">9 / 5</span></div><div class="t" style="left:-1105.50px;width:2000px;text-align:right;top:374.85px;font-size:13px;line-height:13px;color:#000;"><span style="display:inline-block;transform:scaleX(0.885);transform-origin:right;">9 / 5</span></div><div class="t" style="left:274.40px;top:401.35px;font-size:13px;line-height:13px;color:#000;"><span style="display:inline-block;transform:scaleX(0.835);transform-origin:left;">Jmenovitý proud (A)</span></div><div class="t" style="left:-1417.50px;width:2000px;text-align:right;top:401.35px;font-size:13px;line-height:13px;color:#000;"><span style="display:inline-block;transform:scaleX(0.885);transform-origin:right;">0,06 / 0,04</span></div><div class="t" style="left:-1308.00px;width:2000px;text-align:right;top:401.35px;font-size:13px;line-height:13px;color:#000;"><span style="display:inline-block;transform:scaleX(0.885);transform-origin:right;">0,06 / 0,04</span></div><div class="t" style="left:-1203.00px;width:2000px;text-align:right;top:401.35px;font-size:13px;line-height:13px;color:#000;"><span style="display:inline-block;transform:scaleX(0.885);transform-origin:right;">0,06 / 0,04</span></div><div class="t" style="left:-1105.50px;width:2000px;text-align:right;top:401.35px;font-size:13px;line-height:13px;color:#000;"><span style="display:inline-block;transform:scaleX(0.885);transform-origin:right;">0,06 / 0,04</span></div><div class="t" style="left:274.40px;top:427.35px;font-size:13px;line-height:13px;color:#000;"><span style="display:inline-block;transform:scaleX(0.835);transform-origin:left;">Hladina akust. tlaku (dB(A)) ve 3 m <span style="font-size:8px;position:relative;top:-4px">2)</span></span></div><div class="t" style="left:-1417.50px;width:2000px;text-align:right;top:427.35px;font-size:13px;line-height:13px;color:#000;"><span style="display:inline-block;transform:scaleX(0.885);transform-origin:right;">30 / 25</span></div><div class="t" style="left:-1308.00px;width:2000px;text-align:right;top:427.35px;font-size:13px;line-height:13px;color:#000;"><span style="display:inline-block;transform:scaleX(0.885);transform-origin:right;">30 / 25</span></div><div class="t" style="left:-1203.00px;width:2000px;text-align:right;top:427.35px;font-size:13px;line-height:13px;color:#000;"><span style="display:inline-block;transform:scaleX(0.885);transform-origin:right;">30 / 25</span></div><div class="t" style="left:-1105.50px;width:2000px;text-align:right;top:427.35px;font-size:13px;line-height:13px;color:#000;"><span style="display:inline-block;transform:scaleX(0.885);transform-origin:right;">30 / 25</span></div><div class="t" style="left:274.40px;top:453.60px;font-size:13px;line-height:13px;color:#000;"><span style="display:inline-block;transform:scaleX(0.835);transform-origin:left;">Schéma zapojení č.</span></div><div class="t" style="left:-1417.50px;width:2000px;text-align:right;top:453.60px;font-size:13px;line-height:13px;color:#000;"><span style="display:inline-block;transform:scaleX(0.885);transform-origin:right;">915</span></div><div class="t" style="left:-1308.00px;width:2000px;text-align:right;top:453.60px;font-size:13px;line-height:13px;color:#000;"><span style="display:inline-block;transform:scaleX(0.885);transform-origin:right;">917</span></div><div class="t" style="left:-1203.00px;width:2000px;text-align:right;top:453.60px;font-size:13px;line-height:13px;color:#000;"><span style="display:inline-block;transform:scaleX(0.885);transform-origin:right;">919</span></div><div class="t" style="left:-1105.50px;width:2000px;text-align:right;top:453.60px;font-size:13px;line-height:13px;color:#000;"><span style="display:inline-block;transform:scaleX(0.885);transform-origin:right;">918</span></div><div class="t" style="left:274.40px;top:479.85px;font-size:13px;line-height:13px;color:#000;"><span style="display:inline-block;transform:scaleX(0.835);transform-origin:left;">Kabel el. napájení CYKY v mm<span style="font-size:8px;position:relative;top:-4px">2</span></span></div><div class="t" style="left:-1417.50px;width:2000px;text-align:right;top:479.85px;font-size:13px;line-height:13px;color:#000;"><span style="display:inline-block;transform:scaleX(0.885);transform-origin:right;">3 x 1,5</span></div><div class="t" style="left:-1308.00px;width:2000px;text-align:right;top:479.85px;font-size:13px;line-height:13px;color:#000;"><span style="display:inline-block;transform:scaleX(0.885);transform-origin:right;">4 x 1,5</span></div><div class="t" style="left:-1203.00px;width:2000px;text-align:right;top:479.85px;font-size:13px;line-height:13px;color:#000;"><span style="display:inline-block;transform:scaleX(0.885);transform-origin:right;">4 x 1,5</span></div><div class="t" style="left:-1105.50px;width:2000px;text-align:right;top:479.85px;font-size:13px;line-height:13px;color:#000;"><span style="display:inline-block;transform:scaleX(0.885);transform-origin:right;">3 x 1,5</span></div><div class="t" style="left:274.40px;top:505.60px;font-size:13px;line-height:13px;color:#000;"><span style="display:inline-block;transform:scaleX(0.835);transform-origin:left;">Třída ochrany II, stupeň krytí</span></div><div class="t" style="left:-1417.50px;width:2000px;text-align:right;top:505.60px;font-size:13px;line-height:13px;color:#000;"><span style="display:inline-block;transform:scaleX(0.835);transform-origin:right;">IP 45</span></div><div class="t" style="left:-1308.00px;width:2000px;text-align:right;top:505.60px;font-size:13px;line-height:13px;color:#000;"><span style="display:inline-block;transform:scaleX(0.835);transform-origin:right;">IP 45</span></div><div class="t" style="left:-1203.00px;width:2000px;text-align:right;top:505.60px;font-size:13px;line-height:13px;color:#000;"><span style="display:inline-block;transform:scaleX(0.835);transform-origin:right;">IP 45</span></div><div class="t" style="left:-1105.50px;width:2000px;text-align:right;top:505.60px;font-size:13px;line-height:13px;color:#000;"><span style="display:inline-block;transform:scaleX(0.835);transform-origin:right;">IP 45</span></div><div class="t" style="left:274.40px;top:531.60px;font-size:13px;line-height:13px;color:#000;"><span style="display:inline-block;transform:scaleX(0.835);transform-origin:left;">Maximální připustná provozní teplota</span></div><div class="t" style="left:-1417.50px;width:2000px;text-align:right;top:531.60px;font-size:13px;line-height:13px;color:#000;"><span style="display:inline-block;transform:scaleX(0.92);transform-origin:right;">+40 °C</span></div><div class="t" style="left:-1308.00px;width:2000px;text-align:right;top:531.60px;font-size:13px;line-height:13px;color:#000;"><span style="display:inline-block;transform:scaleX(0.92);transform-origin:right;">+40 °C</span></div><div class="t" style="left:-1203.00px;width:2000px;text-align:right;top:531.60px;font-size:13px;line-height:13px;color:#000;"><span style="display:inline-block;transform:scaleX(0.92);transform-origin:right;">+40 °C</span></div><div class="t" style="left:-1105.50px;width:2000px;text-align:right;top:531.60px;font-size:13px;line-height:13px;color:#000;"><span style="display:inline-block;transform:scaleX(0.92);transform-origin:right;">+40 °C</span></div><div class="t" style="left:274.40px;top:557.85px;font-size:13px;line-height:13px;color:#000;"><span style="display:inline-block;transform:scaleX(0.835);transform-origin:left;">Hmotnost cca kg</span></div><div class="t" style="left:-1417.50px;width:2000px;text-align:right;top:557.85px;font-size:13px;line-height:13px;color:#000;"><span style="display:inline-block;transform:scaleX(0.885);transform-origin:right;">0,80</span></div><div class="t" style="left:-1308.00px;width:2000px;text-align:right;top:557.85px;font-size:13px;line-height:13px;color:#000;"><span style="display:inline-block;transform:scaleX(0.885);transform-origin:right;">0,80</span></div><div class="t" style="left:-1203.00px;width:2000px;text-align:right;top:557.85px;font-size:13px;line-height:13px;color:#000;"><span style="display:inline-block;transform:scaleX(0.885);transform-origin:right;">0,80</span></div><div class="t" style="left:-1105.50px;width:2000px;text-align:right;top:557.85px;font-size:13px;line-height:13px;color:#000;"><span style="display:inline-block;transform:scaleX(0.885);transform-origin:right;">0,80</span></div><div class="t" style="left:274.40px;top:595.30px;font-size:13px;line-height:13px;font-weight:bold;color:#000;"><span style="display:inline-block;transform:scaleX(0.866);transform-origin:left;">Příslušenství</span></div><div class="t" style="left:274.40px;top:626.10px;font-size:13px;line-height:13px;color:#000;"><span style="display:inline-block;transform:scaleX(0.835);transform-origin:left;">Prov. vyp/přep. rychlostí otáček 0-1-2</span></div><div class="t" style="left:492.80px;top:626.10px;font-size:13px;line-height:13px;font-weight:bold;color:#000;"><span style="display:inline-block;transform:scaleX(0.866);transform-origin:left;">MVB</span></div><div class="t" style="left:-1415.00px;width:2000px;text-align:right;top:626.10px;font-size:13px;line-height:13px;color:#000;"><span style="display:inline-block;transform:scaleX(0.885);transform-origin:right;">6091</span></div><div class="t" style="left:-1308.00px;width:2000px;text-align:right;top:626.10px;font-size:13px;line-height:13px;color:#000;"><span style="display:inline-block;">–</span></div><div class="t" style="left:-1205.50px;width:2000px;text-align:right;top:626.10px;font-size:13px;line-height:13px;color:#000;"><span style="display:inline-block;">–</span></div><div class="t" style="left:-1108.70px;width:2000px;text-align:right;top:626.10px;font-size:13px;line-height:13px;color:#000;"><span style="display:inline-block;">–</span></div><div class="t" style="left:274.40px;top:652.35px;font-size:13px;line-height:13px;color:#000;"><span style="display:inline-block;transform:scaleX(0.835);transform-origin:left;">Nástěnné teleskopické pouzdro</span></div><div class="t" style="left:492.80px;top:652.35px;font-size:13px;line-height:13px;font-weight:bold;color:#000;"><span style="display:inline-block;transform:scaleX(0.866);transform-origin:left;">TWH 100</span></div><div class="t" style="left:-1415.00px;width:2000px;text-align:right;top:652.35px;font-size:13px;line-height:13px;color:#000;"><span style="display:inline-block;transform:scaleX(0.885);transform-origin:right;">6352</span></div><div class="t" style="left:597.00px;top:652.35px;font-size:13px;line-height:13px;font-weight:bold;color:#000;"><span style="display:inline-block;transform:scaleX(0.866);transform-origin:left;">TWH 100</span></div><div class="t" style="left:-1303.00px;width:2000px;text-align:right;top:652.35px;font-size:13px;line-height:13px;color:#000;"><span style="display:inline-block;transform:scaleX(0.885);transform-origin:right;">6352</span></div><div class="t" style="left:707.20px;top:652.35px;font-size:13px;line-height:13px;font-weight:bold;color:#000;"><span style="display:inline-block;transform:scaleX(0.866);transform-origin:left;">TWH 100</span></div><div class="t" style="left:-1200.50px;width:2000px;text-align:right;top:652.35px;font-size:13px;line-height:13px;color:#000;"><span style="display:inline-block;transform:scaleX(0.885);transform-origin:right;">6352</span></div><div class="t" style="left:811.70px;top:652.35px;font-size:13px;line-height:13px;font-weight:bold;color:#000;"><span style="display:inline-block;transform:scaleX(0.866);transform-origin:left;">TWH 100</span></div><div class="t" style="left:-1103.70px;width:2000px;text-align:right;top:652.35px;font-size:13px;line-height:13px;color:#000;"><span style="display:inline-block;transform:scaleX(0.885);transform-origin:right;">6352</span></div><div class="t" style="left:274.40px;top:678.10px;font-size:13px;line-height:13px;color:#000;"><span style="display:inline-block;transform:scaleX(0.835);transform-origin:left;">Sada pro vestavbu do zdi</span></div><div class="t" style="left:492.80px;top:678.10px;font-size:13px;line-height:13px;font-weight:bold;color:#000;"><span style="display:inline-block;transform:scaleX(0.866);transform-origin:left;">WES 100</span></div><div class="t" style="left:-1415.00px;width:2000px;text-align:right;top:678.10px;font-size:13px;line-height:13px;color:#000;"><span style="display:inline-block;transform:scaleX(0.885);transform-origin:right;">0717</span></div><div class="t" style="left:597.00px;top:678.10px;font-size:13px;line-height:13px;font-weight:bold;color:#000;"><span style="display:inline-block;transform:scaleX(0.866);transform-origin:left;">WES 100</span></div><div class="t" style="left:-1303.00px;width:2000px;text-align:right;top:678.10px;font-size:13px;line-height:13px;color:#000;"><span style="display:inline-block;transform:scaleX(0.885);transform-origin:right;">0717</span></div><div class="t" style="left:707.20px;top:678.10px;font-size:13px;line-height:13px;font-weight:bold;color:#000;"><span style="display:inline-block;transform:scaleX(0.866);transform-origin:left;">WES 100</span></div><div class="t" style="left:-1200.50px;width:2000px;text-align:right;top:678.10px;font-size:13px;line-height:13px;color:#000;"><span style="display:inline-block;transform:scaleX(0.885);transform-origin:right;">0717</span></div><div class="t" style="left:811.70px;top:678.10px;font-size:13px;line-height:13px;font-weight:bold;color:#000;"><span style="display:inline-block;transform:scaleX(0.866);transform-origin:left;">WES 100</span></div><div class="t" style="left:-1103.70px;width:2000px;text-align:right;top:678.10px;font-size:13px;line-height:13px;color:#000;"><span style="display:inline-block;transform:scaleX(0.885);transform-origin:right;">0717</span></div><div class="t" style="left:274.40px;top:704.10px;font-size:13px;line-height:13px;color:#000;"><span style="display:inline-block;transform:scaleX(0.835);transform-origin:left;">Montážní plastová clona</span></div><div class="t" style="left:492.80px;top:704.10px;font-size:13px;line-height:13px;font-weight:bold;color:#000;"><span style="display:inline-block;transform:scaleX(0.866);transform-origin:left;">MBR 90/..</span></div><div class="t" style="left:-1415.00px;width:2000px;text-align:right;top:704.10px;font-size:13px;line-height:13px;color:#000;"><span style="display:inline-block;transform:scaleX(0.885);transform-origin:right;">0281</span></div><div class="t" style="left:597.00px;top:704.10px;font-size:13px;line-height:13px;font-weight:bold;color:#000;"><span style="display:inline-block;transform:scaleX(0.866);transform-origin:left;">MBR 90/..</span></div><div class="t" style="left:-1303.00px;width:2000px;text-align:right;top:704.10px;font-size:13px;line-height:13px;color:#000;"><span style="display:inline-block;transform:scaleX(0.885);transform-origin:right;">0281</span></div><div class="t" style="left:707.20px;top:704.10px;font-size:13px;line-height:13px;font-weight:bold;color:#000;"><span style="display:inline-block;transform:scaleX(0.866);transform-origin:left;">MBR 90/..</span></div><div class="t" style="left:-1200.50px;width:2000px;text-align:right;top:704.10px;font-size:13px;line-height:13px;color:#000;"><span style="display:inline-block;transform:scaleX(0.885);transform-origin:right;">0281</span></div><div class="t" style="left:811.70px;top:704.10px;font-size:13px;line-height:13px;font-weight:bold;color:#000;"><span style="display:inline-block;transform:scaleX(0.866);transform-origin:left;">MBR 90/..</span></div><div class="t" style="left:-1103.70px;width:2000px;text-align:right;top:704.10px;font-size:13px;line-height:13px;color:#000;"><span style="display:inline-block;transform:scaleX(0.885);transform-origin:right;">0281</span></div><div class="t" style="left:274.40px;top:729.60px;font-size:13px;line-height:13px;color:#000;"><span style="display:inline-block;transform:scaleX(0.835);transform-origin:left;">Příruba</span></div><div class="t" style="left:492.80px;top:729.60px;font-size:13px;line-height:13px;font-weight:bold;color:#000;"><span style="display:inline-block;transform:scaleX(0.866);transform-origin:left;">MF 100</span></div><div class="t" style="left:-1415.00px;width:2000px;text-align:right;top:729.60px;font-size:13px;line-height:13px;color:#000;"><span style="display:inline-block;transform:scaleX(0.885);transform-origin:right;">6188</span></div><div class="t" style="left:597.00px;top:729.60px;font-size:13px;line-height:13px;font-weight:bold;color:#000;"><span style="display:inline-block;transform:scaleX(0.866);transform-origin:left;">MF 100</span></div><div class="t" style="left:-1303.00px;width:2000px;text-align:right;top:729.60px;font-size:13px;line-height:13px;color:#000;"><span style="display:inline-block;transform:scaleX(0.885);transform-origin:right;">6188</span></div><div class="t" style="left:707.20px;top:729.60px;font-size:13px;line-height:13px;font-weight:bold;color:#000;"><span style="display:inline-block;transform:scaleX(0.866);transform-origin:left;">MF 100</span></div><div class="t" style="left:-1200.50px;width:2000px;text-align:right;top:729.60px;font-size:13px;line-height:13px;color:#000;"><span style="display:inline-block;transform:scaleX(0.885);transform-origin:right;">6188</span></div><div class="t" style="left:811.70px;top:729.60px;font-size:13px;line-height:13px;font-weight:bold;color:#000;"><span style="display:inline-block;transform:scaleX(0.866);transform-origin:left;">MF 100</span></div><div class="t" style="left:-1103.70px;width:2000px;text-align:right;top:729.60px;font-size:13px;line-height:13px;color:#000;"><span style="display:inline-block;transform:scaleX(0.885);transform-origin:right;">6188</span></div><div class="t" style="left:268.80px;top:755.73px;font-size:8px;line-height:8px;color:#000;"><span style="display:inline-block;transform:scaleX(0.85);transform-origin:left;">1)</span></div><div class="t" style="left:276.70px;top:758.99px;font-size:11px;line-height:11px;color:#000;"><span style="display:inline-block;transform:scaleX(1.023);transform-origin:left;">Všechny elektrické funkce jsou volitelné pro oba stupně výkonu.</span></div><div class="t" style="left:268.80px;top:769.58px;font-size:8px;line-height:8px;color:#000;"><span style="display:inline-block;transform:scaleX(0.85);transform-origin:left;">2)</span></div><div class="t" style="left:276.70px;top:772.84px;font-size:11px;line-height:11px;color:#000;"><span style="display:inline-block;transform:scaleX(1.023);transform-origin:left;">Ve volném prostranství.</span></div><div class="t" style="left:268.80px;top:783.43px;font-size:8px;line-height:8px;color:#000;"><span style="display:inline-block;transform:scaleX(0.85);transform-origin:left;">3)</span></div><div class="t" style="left:276.70px;top:786.69px;font-size:11px;line-height:11px;color:#000;"><span style="display:inline-block;transform:scaleX(1.023);transform-origin:left;">Při ručním provozu.</span></div><div class="t" style="left:268.80px;top:797.28px;font-size:8px;line-height:8px;color:#000;"><span style="display:inline-block;transform:scaleX(0.85);transform-origin:left;">4)</span></div><div class="t" style="left:276.70px;top:800.54px;font-size:11px;line-height:11px;color:#000;"><span style="display:inline-block;transform:scaleX(1.023);transform-origin:left;">Nastavitelná hraniční hodnota 60, 70, 80, 90 %.</span></div><div class="t" style="left:3.80px;top:248.39px;font-size:11px;line-height:11px;color:#6a6a6a;"><span style="display:inline-block;transform:scaleX(1.01);transform-origin:left;">Rozměry v mm</span></div><div class="b" style="left:3px;top:269px;width:236px;height:1px;background:#d4d4d4"></div><div class="t" style="left:3.20px;top:293.70px;font-size:15px;line-height:15px;color:#000;"><span style="display:inline-block;"><b style="font-size:15.8px">M1/100</b> Výkonová charakteristika</span></div><div class="b" style="left:3px;top:590px;width:240px;height:1px;background:#d4d4d4"></div><div class="t" style="left:8.50px;top:343.87px;font-size:11.5px;line-height:11.5px;color:#222;"><span style="display:inline-block;">Δp<span style="font-size:8.5px;position:relative;top:3px">fa</span></span></div><div class="t" style="left:8.50px;top:357.07px;font-size:11.5px;line-height:11.5px;color:#222;"><span style="display:inline-block;">Pa</span></div><div class="t" style="left:145.70px;top:344.02px;font-size:11.2px;line-height:11.2px;color:#222;"><span style="display:inline-block;transform:scaleX(1.03);transform-origin:left;">ρ = 1,20 kg/m<span style="font-size:8px;position:relative;top:-4px">3</span></span></div><div class="t" style="left:141.30px;top:407.49px;font-size:11px;line-height:11px;color:#111;"><span style="display:inline-block;transform:scaleX(0.83);transform-origin:left;">vysoké otáčky</span></div><div class="t" style="left:83.60px;top:458.19px;font-size:11px;line-height:11px;color:#111;"><span style="display:inline-block;transform:scaleX(0.83);transform-origin:left;">nízké</span></div><div class="t" style="left:80.00px;top:469.79px;font-size:11px;line-height:11px;color:#111;"><span style="display:inline-block;transform:scaleX(0.83);transform-origin:left;">otáčky</span></div><div class="t" style="left:178.20px;top:535.32px;font-size:11.2px;line-height:11.2px;color:#222;"><span style="display:inline-block;">V̇ (m<span style="font-size:8px;position:relative;top:-4px">3</span>/h)</span></div>
</div></body></html>
